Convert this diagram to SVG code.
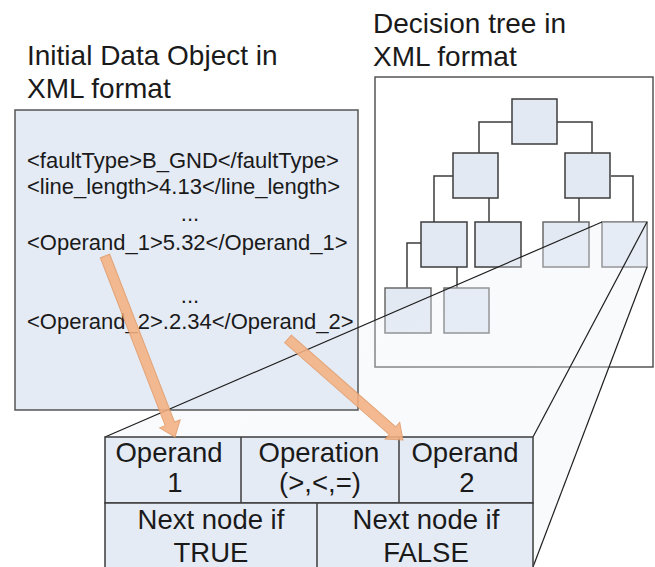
<svg xmlns="http://www.w3.org/2000/svg" width="655" height="567" viewBox="0 0 655 567">
  <defs>
    <style>
      .title { font-family: "Liberation Sans", Arial, sans-serif; font-size: 28px; fill: #1a1a1a; }
      .xml { font-family: "Liberation Sans", Arial, sans-serif; font-size: 22px; fill: #1a1a1a; }
      .cell { font-family: "Liberation Sans", Arial, sans-serif; font-size: 27.5px; fill: #1a1a1a; text-anchor: middle; }
      .panel { fill: #e5ebf5; stroke: #555; stroke-width: 1.5; }
      .frame { fill: #ffffff; stroke: #555; stroke-width: 1.5; }
      .node { fill: #e3e9f3; stroke: #3c3c3c; stroke-width: 1.5; }
      .leaf { fill: #e3e9f3; stroke: #6a6a6a; stroke-width: 1.5; }
      .edge { fill: none; stroke: #3c3c3c; stroke-width: 1.5; }
      .proj { fill: none; stroke: #1e1e1e; stroke-width: 1.2; }
      .grid { fill: #e5ebf5; stroke: #3c3c3c; stroke-width: 1.5; }
      .arrow { fill: #f4b183; stroke: #e29a66; stroke-width: 1; opacity: 0.88; }
    </style>
    <linearGradient id="shade" x1="0" y1="0" x2="1" y2="1">
      <stop offset="0" stop-color="#e9eef7" stop-opacity="0.25"/>
      <stop offset="1" stop-color="#eef2f8" stop-opacity="0.4"/>
    </linearGradient>
  </defs>

  <!-- Titles -->
  <text class="title" x="27" y="65">Initial Data Object in</text>
  <text class="title" x="27" y="98">XML format</text>
  <text class="title" x="373" y="33">Decision tree in</text>
  <text class="title" x="373" y="66">XML format</text>

  <!-- Decision tree frame -->
  <g id="tree-frame">
    <rect class="frame" x="375" y="77" width="278" height="290"/>
  </g>

  <!-- Tree edges -->
  <g id="tree-edges">
    <path class="edge" d="M512,122 H479 V153"/>
    <path class="edge" d="M557,122 H592 V153"/>
    <path class="edge" d="M453,176 H434 V222"/>
    <path class="edge" d="M489,198 V222"/>
    <path class="edge" d="M579,198 V222"/>
    <path class="edge" d="M611,176 H633 V222"/>
    <path class="edge" d="M421,243 H407 V288"/>
    <path class="edge" d="M457,267 V288"/>
  </g>

  <!-- Tree nodes -->
  <g id="tree-root"><rect class="node" x="512" y="99" width="45" height="45"/></g>
  <g id="tree-l"><rect class="node" x="453" y="153" width="45" height="45"/></g>
  <g id="tree-r"><rect class="node" x="565" y="153" width="45" height="45"/></g>
  <g id="tree-ll"><rect class="node" x="421" y="222" width="46" height="45"/></g>
  <g id="tree-lr"><rect class="node" x="475" y="222" width="46" height="45"/></g>
  <g id="tree-rl"><rect class="leaf" x="543" y="222" width="46" height="45"/></g>
  <g id="tree-rr"><rect class="leaf" x="602" y="222" width="45" height="45"/></g>
  <g id="tree-lll"><rect class="leaf" x="385" y="288" width="46" height="45"/></g>
  <g id="tree-llr"><rect class="leaf" x="444" y="288" width="45" height="45"/></g>

  <!-- Zoom-out shading from the selected node down to the node record -->
  <polygon fill="url(#shade)" points="105,437 602,222 647,222 647,267 533,567 105,567"/>

  <!-- Initial data object -->
  <g id="data-object">
    <rect class="panel" x="15" y="110" width="343" height="300"/>
    <text class="xml" x="27" y="168">&lt;faultType&gt;B_GND&lt;/faultType&gt;</text>
    <text class="xml" x="27" y="194">&lt;line_length&gt;4.13&lt;/line_length&gt;</text>
    <text class="xml" x="190" y="221" text-anchor="middle">...</text>
    <text class="xml" x="27" y="250">&lt;Operand_1&gt;5.32&lt;/Operand_1&gt;</text>
    <text class="xml" x="190" y="303" text-anchor="middle">...</text>
    <text class="xml" x="27" y="329">&lt;Operand_2&gt;.2.34&lt;/Operand_2&gt;</text>
  </g>

  <!-- Projection lines -->
  <g id="projection">
    <line class="proj" x1="105" y1="437" x2="602" y2="222"/>
    <line class="proj" x1="533" y1="437" x2="647" y2="222"/>
    <line class="proj" x1="533" y1="567" x2="647" y2="267"/>
  </g>

  <!-- Node record -->
  <g id="node-record">
    <rect class="grid" x="105" y="437" width="428" height="66"/>
    <rect class="grid" x="105" y="503" width="428" height="70"/>
    <line class="edge" x1="241" y1="437" x2="241" y2="503"/>
    <line class="edge" x1="399" y1="437" x2="399" y2="503"/>
    <line class="edge" x1="317" y1="503" x2="317" y2="567"/>
    <text class="cell" x="169" y="462">Operand</text>
    <text class="cell" x="175" y="492">1</text>
    <text class="cell" x="319" y="462">Operation</text>
    <text class="cell" x="320" y="492">(&gt;,&lt;,=)</text>
    <text class="cell" x="465" y="462">Operand</text>
    <text class="cell" x="467" y="492">2</text>
    <text class="cell" x="211" y="529">Next node if</text>
    <text class="cell" x="211" y="562">TRUE</text>
    <text class="cell" x="426" y="529">Next node if</text>
    <text class="cell" x="426" y="562">FALSE</text>
  </g>

  <!-- Data flow arrows -->
  <g id="connectors">
    <path class="arrow" transform="translate(105,256) rotate(68.86)" d="M0,-5 H180 V-11 L194,0 L180,11 V5 H0 Z"/>
    <path class="arrow" transform="translate(288,339) rotate(41.29)" d="M0,-5 H139 V-11 L153,0 L139,11 V5 H0 Z"/>
  </g>
</svg>
